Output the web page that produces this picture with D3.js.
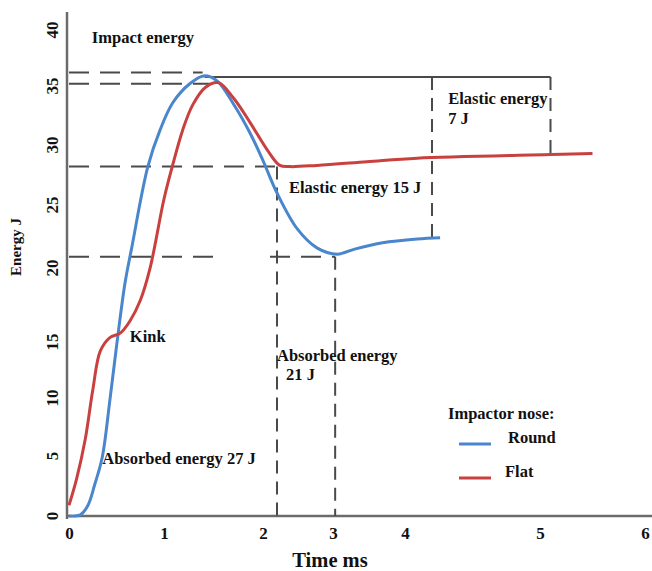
<!DOCTYPE html>
<html>
<head>
<meta charset="utf-8">
<script src="https://cdn.jsdelivr.net/npm/d3@7"></script>
<style>
  body { margin: 0; background: #fff; }
  text { font-family: "Liberation Serif", "Times New Roman", serif; font-weight: bold; fill: #111; }
</style>
</head>
<body>
<script>
// tick labels (the original axis labels are unevenly spaced, so the scales are piecewise)
var xTicks = [0, 1, 2, 3, 4, 5, 6];
var yTicks = [0, 5, 10, 15, 20, 25, 30, 35, 40];

// round nose impactor: [time ms, energy J]
var roundNose = [
  [0, 0], [0.12, 0.1], [0.2, 0.9], [0.27, 2.6], [0.35, 4.9], [0.43, 9.8],
  [0.5, 14.6], [0.59, 19.0], [0.66, 21.6], [0.83, 28.2], [0.96, 31.3],
  [1.09, 33.6], [1.26, 35.2], [1.4, 35.9], [1.53, 35.5],
  [1.70, 33.5], [1.87, 31.0], [2.0, 28.7], [2.2, 26.0], [2.49, 23.1],
  [2.77, 21.6], [3.06, 21.1], [3.3, 21.5], [3.69, 22.0], [4.09, 22.3], [4.26, 22.4]
];

// flat nose impactor
var flatNose = [
  [0, 0.9], [0.08, 3.1], [0.17, 6.4], [0.25, 10.7], [0.33, 14.2], [0.43, 15.3],
  [0.54, 15.6], [0.64, 16.4], [0.75, 17.8], [0.85, 19.9],
  [1.0, 25.5], [1.09, 28.4], [1.19, 31.3], [1.29, 33.4], [1.42, 34.9], [1.55, 35.3],
  [1.70, 34.0], [1.87, 31.9], [2.06, 29.6], [2.24, 28.3], [2.39, 28.2],
  [2.77, 28.3], [3.47, 28.6], [4.09, 28.9], [5.1, 29.2], [5.5, 29.3]
];

// guide lines: [t1, e1, t2, e2, dashed]
var guides = [
  [0, 36.2, 1.39, 36.2, true],
  [0, 35.2, 1.52, 35.2, true],
  [1.41, 35.8, 5.1, 35.8, false],
  [4.2, 35.8, 4.2, 22.4, true],
  [5.1, 35.8, 5.1, 29.2, true],
  [0, 28.2, 2.2, 28.2, true],
  [2.2, 28.2, 2.2, 0, true],
  [0, 20.9, 1.54, 20.9, true],
  [2.1, 20.9, 3.03, 20.9, true],
  [3.03, 20.9, 3.03, 0, true]
];

// annotations: [text, time, energy]
var notes = [
  ['Impact energy', 0.24, 38.8],
  ['Elastic energy', 4.32, 33.5],
  ['7 J', 4.32, 31.8],
  ['Elastic energy 15 J', 2.37, 26.0],
  ['Kink', 0.64, 15.0],
  ['Absorbed energy', 2.2, 13.3],
  ['21 J', 2.33, 11.6],
  ['Absorbed energy 27 J', 0.35, 4.3]
];

var series = [
  { name: 'Round', data: roundNose, color: '#4a86cc' },
  { name: 'Flat', data: flatNose, color: '#c8413f' }
];

var width = 652, height = 571;

var x = d3.scaleLinear()
  .domain(xTicks)
  .range([69, 164, 263, 333, 405, 540, 645]);

var y = d3.scaleLinear()
  .domain(yTicks)
  .range([516, 456, 398, 342, 268, 205, 145, 86, 30]);

var svg = d3.select('body').append('svg')
  .attr('width', width)
  .attr('height', height);

// axis lines
svg.append('line')
  .attr('x1', 67).attr('x2', 67)
  .attr('y1', 12).attr('y2', 519)
  .attr('stroke', '#6b6b6b').attr('stroke-width', 2.5);
svg.append('line')
  .attr('x1', 66).attr('x2', width)
  .attr('y1', y(0)).attr('y2', y(0))
  .attr('stroke', '#6b6b6b').attr('stroke-width', 2.5);

// tick labels
var xAxis = svg.append('g')
  .attr('transform', 'translate(0,' + y(0) + ')')
  .call(d3.axisBottom(x).tickValues(xTicks).tickSize(0).tickPadding(11).tickFormat(d3.format('d')));
xAxis.select('.domain').remove();
xAxis.selectAll('text')
  .style('font-family', '"Liberation Serif", serif')
  .style('font-weight', 'bold')
  .style('font-size', '17px')
  .attr('fill', '#111');

svg.selectAll('.ylab')
  .data(yTicks)
  .enter().append('text')
  .attr('class', 'ylab')
  .attr('transform', function(d) { return 'translate(58,' + y(d) + ') rotate(-90)'; })
  .attr('text-anchor', 'middle')
  .style('font-size', '17px')
  .text(function(d) { return d; });

// guide lines
svg.selectAll('.guide')
  .data(guides)
  .enter().append('line')
  .attr('class', 'guide')
  .attr('x1', function(d) { return x(d[0]); })
  .attr('y1', function(d) { return y(d[1]); })
  .attr('x2', function(d) { return x(d[2]); })
  .attr('y2', function(d) { return y(d[3]); })
  .attr('stroke', '#4a4a4a')
  .attr('stroke-width', 2)
  .attr('stroke-dasharray', function(d) {
    if (!d[4]) return null;
    return d[0] === d[2] ? '13,8' : '20,11';
  });

// curves
var line = d3.line()
  .x(function(d) { return x(d[0]); })
  .y(function(d) { return y(d[1]); })
  .curve(d3.curveCatmullRom.alpha(0.5));

svg.selectAll('.curve')
  .data(series)
  .enter().append('path')
  .attr('class', 'curve')
  .attr('d', function(d) { return line(d.data); })
  .attr('fill', 'none')
  .attr('stroke', function(d) { return d.color; })
  .attr('stroke-width', 3)
  .attr('stroke-linejoin', 'round');

// annotations
svg.selectAll('.note')
  .data(notes)
  .enter().append('text')
  .attr('class', 'note')
  .attr('x', function(d) { return x(d[1]); })
  .attr('y', function(d) { return y(d[2]); })
  .style('font-size', '16.5px')
  .text(function(d) { return d[0]; });

// axis titles
svg.append('text')
  .attr('transform', 'translate(21,247) rotate(-90)')
  .attr('text-anchor', 'middle')
  .style('font-size', '15px')
  .text('Energy J');

svg.append('text')
  .attr('x', 330)
  .attr('y', 567)
  .attr('text-anchor', 'middle')
  .style('font-size', '20.5px')
  .text('Time ms');

// legend
var legend = svg.append('g').attr('transform', 'translate(448,419)');
legend.append('text')
  .attr('x', 0).attr('y', 0)
  .style('font-size', '16.5px')
  .text('Impactor nose:');

var item = legend.selectAll('.item')
  .data(series)
  .enter().append('g')
  .attr('class', 'item')
  .attr('transform', function(d, i) { return 'translate(0,' + (24 + i * 34) + ')'; });

item.append('line')
  .attr('x1', 11).attr('x2', 43)
  .attr('y1', 1).attr('y2', 1)
  .attr('stroke', function(d) { return d.color; })
  .attr('stroke-width', 3);

item.append('text')
  .attr('x', function(d, i) { return i === 0 ? 60 : 57; })
  .attr('y', 0)
  .style('font-size', '16.5px')
  .text(function(d) { return d.name; });
</script>
</body>
</html>
